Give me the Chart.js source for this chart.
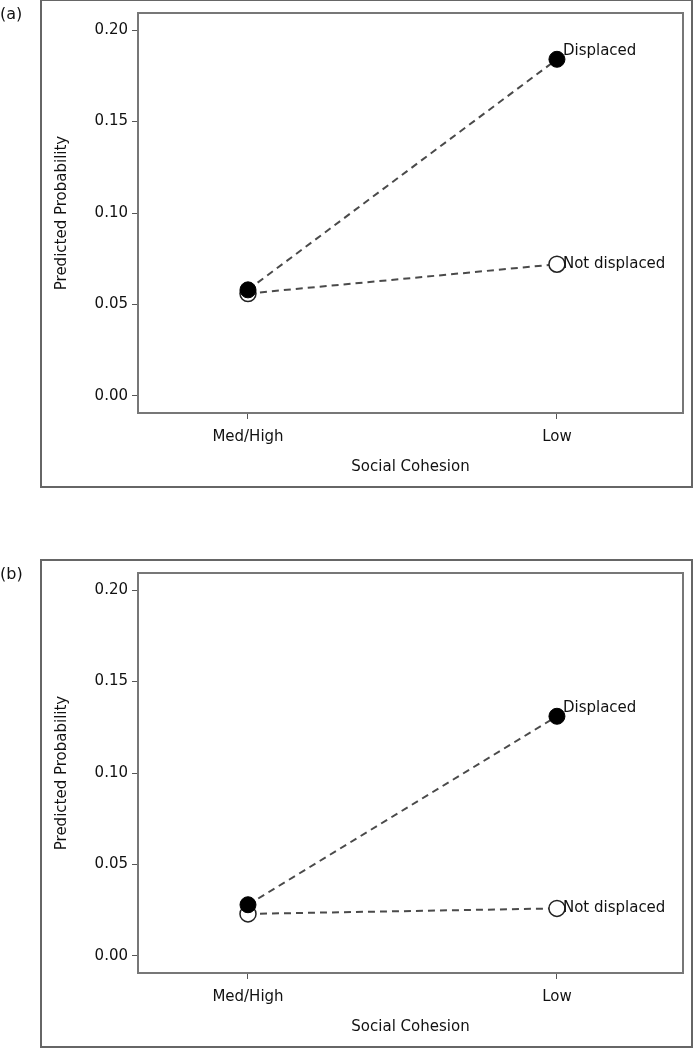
<!DOCTYPE html>
<html>
<head>
<meta charset="utf-8">
<script src="https://cdn.jsdelivr.net/npm/chart.js@4/dist/chart.umd.min.js"></script>
<style>
  body { margin: 0; background: #fff; }
  .panel { position: absolute; left: 0; width: 696px; height: 490px; }
</style>
</head>
<body>
<div class="panel" style="top:-1px"><canvas id="chartA" width="696" height="490"></canvas></div>
<div class="panel" style="top:559px"><canvas id="chartB" width="696" height="490"></canvas></div>
<script>
// data
const categories = ["Med/High", "Low"];
const seriesNames = ["Displaced", "Not displaced"];
const yTicks = [0, 0.05, 0.10, 0.15, 0.20];

const displacedA = [0.058, 0.184];
const notDisplacedA = [0.056, 0.072];
const displacedB = [0.028, 0.131];
const notDisplacedB = [0.023, 0.026];

const FONT = "'DejaVu Sans', sans-serif";
const INK = "#111";

// outer frame, panel letter, inner box and end labels
const framePlugin = {
  id: "frame",
  beforeDraw(chart, args, opts) {
    const ctx = chart.ctx;
    ctx.save();
    ctx.strokeStyle = "#666";
    ctx.lineWidth = 2;
    ctx.strokeRect(41, 1, 651, 487);
    ctx.fillStyle = INK;
    ctx.font = "16px " + FONT;
    ctx.textBaseline = "middle";
    ctx.textAlign = "left";
    ctx.fillText(opts.letter, 0, 16);
    ctx.restore();
  },
  afterDraw(chart) {
    const { ctx, chartArea: a } = chart;
    ctx.save();
    ctx.strokeStyle = "#777";
    ctx.lineWidth = 2;
    ctx.strokeRect(a.left, a.top, a.right - a.left, a.bottom - a.top);
    ctx.restore();
  },
  afterDatasetsDraw(chart) {
    const ctx = chart.ctx;
    ctx.save();
    ctx.fillStyle = INK;
    ctx.font = "15px " + FONT;
    ctx.textAlign = "left";
    ctx.textBaseline = "middle";
    chart.data.datasets.forEach((ds, i) => {
      const pts = chart.getDatasetMeta(i).data;
      const p = pts[pts.length - 1];
      const dy = i === 0 ? -8 : 0;
      ctx.fillText(ds.label, p.x + 6, p.y + dy);
    });
    ctx.restore();
  }
};

function makeChart(id, letter, displaced, notDisplaced) {
  const toPts = vals => vals.map((v, i) => ({ x: i, y: v }));
  new Chart(document.getElementById(id), {
    type: "line",
    data: {
      datasets: [
        {
          label: seriesNames[0],
          data: toPts(displaced),
          borderColor: "#4a4a4a",
          borderWidth: 2,
          borderDash: [7, 5],
          pointRadius: 8,
          pointBackgroundColor: "#000",
          pointBorderColor: "#000",
          pointBorderWidth: 1
        },
        {
          label: seriesNames[1],
          data: toPts(notDisplaced),
          borderColor: "#4a4a4a",
          borderWidth: 2,
          borderDash: [7, 5],
          pointRadius: 8,
          pointBackgroundColor: "#fff",
          pointBorderColor: "#222",
          pointBorderWidth: 1.5
        }
      ]
    },
    options: {
      responsive: false,
      animation: false,
      clip: false,
      layout: { padding: { top: 14, right: 13, left: 0, bottom: 6 } },
      plugins: {
        legend: { display: false },
        tooltip: { enabled: false },
        frame: { letter: letter }
      },
      scales: {
        x: {
          type: "linear",
          min: -0.356,
          max: 1.408,
          afterBuildTicks: s => { s.ticks = categories.map((c, i) => ({ value: i })); },
          afterFit: s => { s.height = 70; },
          ticks: {
            padding: 9,
            color: INK,
            font: { family: FONT, size: 15 },
            callback: v => categories[v]
          },
          grid: { drawOnChartArea: false, tickLength: 6, color: "#555" },
          border: { display: false },
          title: {
            display: true,
            text: "Social Cohesion",
            color: INK,
            font: { family: FONT, size: 15 },
            padding: { top: 0, bottom: 7 }
          }
        },
        y: {
          min: -0.0093,
          max: 0.2093,
          afterBuildTicks: s => { s.ticks = yTicks.map(v => ({ value: v })); },
          afterFit: s => { s.width = 138; },
          ticks: {
            padding: 4,
            color: INK,
            font: { family: FONT, size: 15 },
            callback: v => v.toFixed(2)
          },
          grid: { drawOnChartArea: false, tickLength: 6, color: "#555" },
          border: { display: false },
          title: {
            display: true,
            text: "Predicted Probability",
            color: INK,
            font: { family: FONT, size: 15 },
            padding: { top: 53, bottom: 0 }
          }
        }
      }
    },
    plugins: [framePlugin]
  });
}

makeChart("chartA", "(a)", displacedA, notDisplacedA);
makeChart("chartB", "(b)", displacedB, notDisplacedB);
</script>
</body>
</html>
